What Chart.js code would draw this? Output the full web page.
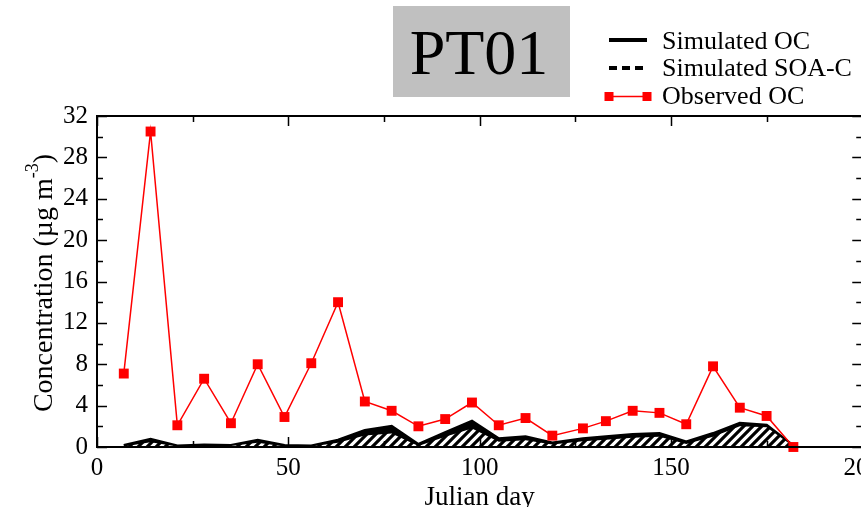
<!DOCTYPE html>
<html>
<head>
<meta charset="utf-8">
<script src="https://cdn.jsdelivr.net/npm/chart.js@4"></script>
<style>
html,body{margin:0;padding:0;background:#fff;overflow:hidden;width:861px;height:507px;}
canvas{display:block;}
</style>
</head>
<body>
<canvas id="c" width="887" height="520"></canvas>
<script>
// ---- data ----
const days = [7,14,21,28,35,42,49,56,63,70,77,84,91,98,105,112,119,127,133,140,147,154,161,168,175,182];
const observedOC = [7.1,30.5,2.1,6.6,2.3,8.0,2.9,8.1,14.0,4.4,3.5,2.0,2.7,4.3,2.1,2.8,1.1,1.8,2.5,3.5,3.3,2.2,7.8,3.8,3.0,0.0];
const simulatedOC = [0.15,0.75,0.1,0.2,0.15,0.65,0.15,0.1,0.65,1.6,2.0,0.25,1.4,2.5,0.8,1.0,0.4,0.8,1.0,1.2,1.3,0.5,1.3,2.3,2.1,0.1];
const simulatedSOA = [0.05,0.45,0.05,0.1,0.1,0.4,0.05,0.05,0.4,1.1,1.3,0.1,1.0,1.8,0.5,0.65,0.25,0.55,0.7,0.9,1.0,0.3,1.0,2.0,1.9,0.05];
const legendLabels = ['Simulated OC','Simulated SOA-C','Observed OC'];
const stationName = 'PT01';
const xTitle = 'Julian day';
const yTitleMain = 'Concentration (\u00b5g m';
const yTitleSup = '-3';
const yTitleEnd = ')';
const xTickLabels = [0,50,100,150,200];
const yTickLabels = [0,4,8,12,16,20,24,28,32];

const pts = (arr) => days.map((d,i) => ({x:d, y:arr[i]}));

// hatch pattern
const pc = document.createElement('canvas');
pc.width = 9; pc.height = 9;
const g = pc.getContext('2d');
g.fillStyle = '#fff'; g.fillRect(0,0,9,9);
g.strokeStyle = '#000'; g.lineWidth = 3.2;
g.beginPath();
g.moveTo(-4.5,4.5); g.lineTo(4.5,-4.5);
g.moveTo(0,9); g.lineTo(9,0);
g.moveTo(4.5,13.5); g.lineTo(13.5,4.5);
g.stroke();
const hatch = g.createPattern(pc,'repeat');

const SERIF = '"Liberation Serif", "Times New Roman", serif';

const decor = {
  id:'decor',
  afterDraw(chart){
    const ctx = chart.ctx;
    const a = chart.chartArea;
    const xs = chart.scales.x, ys = chart.scales.y;
    ctx.save();
    // frame
    ctx.strokeStyle = '#000'; ctx.lineWidth = 2;
    ctx.strokeRect(a.left, a.top, a.right - a.left, a.bottom - a.top);
    // ticks
    ctx.lineWidth = 1.5;
    ctx.beginPath();
    for (let v = 0; v <= 32; v += 2) {
      const y = Math.round(ys.getPixelForValue(v)) + 0.5;
      const L = (v % 4 === 0) ? 10 : 6;
      ctx.moveTo(a.left, y); ctx.lineTo(a.left + L, y);
      ctx.moveTo(a.right, y); ctx.lineTo(a.right - L, y);
    }
    for (let v = 0; v <= 200; v += 25) {
      const x = Math.round(xs.getPixelForValue(v)) + 0.5;
      const L = (v % 50 === 0) ? 10 : 6;
      ctx.moveTo(x, a.bottom); ctx.lineTo(x, a.bottom - L);
      ctx.moveTo(x, a.top); ctx.lineTo(x, a.top + L);
    }
    ctx.stroke();

    // x title
    ctx.fillStyle = '#000';
    ctx.font = '27px ' + SERIF;
    ctx.textAlign = 'center'; ctx.textBaseline = 'alphabetic';
    ctx.fillText(xTitle, (a.left + a.right) / 2, 505);

    // y title with superscript
    ctx.save();
    ctx.translate(52, 283);
    ctx.rotate(-Math.PI/2);
    ctx.textAlign = 'left';
    ctx.font = '28px ' + SERIF;
    const w1 = ctx.measureText(yTitleMain).width;
    const w3 = ctx.measureText(yTitleEnd).width;
    ctx.font = '18px ' + SERIF;
    const w2 = ctx.measureText(yTitleSup).width;
    let u = -(w1 + w2 + w3) / 2;
    ctx.font = '28px ' + SERIF;
    ctx.fillText(yTitleMain, u, 0); u += w1;
    ctx.font = '18px ' + SERIF;
    ctx.fillText(yTitleSup, u, -14); u += w2;
    ctx.font = '28px ' + SERIF;
    ctx.fillText(yTitleEnd, u, 0);
    ctx.restore();

    // title box
    ctx.fillStyle = '#c0c0c0';
    ctx.fillRect(393, 6, 177, 91);
    ctx.fillStyle = '#000';
    ctx.font = '64px ' + SERIF;
    ctx.textAlign = 'center';
    ctx.fillText(stationName, 479, 74);

    // legend
    ctx.textAlign = 'left';
    ctx.font = '26px ' + SERIF;
    const lx0 = 609, lx1 = 647, tx = 662;
    const rows = [40, 68, 96.5];
    const bases = [48.5, 76, 103.5];
    ctx.strokeStyle = '#000'; ctx.lineWidth = 4; ctx.setLineDash([]);
    ctx.beginPath(); ctx.moveTo(lx0, rows[0]); ctx.lineTo(lx1, rows[0]); ctx.stroke();
    ctx.setLineDash([8,5]);
    ctx.beginPath(); ctx.moveTo(lx0, rows[1]); ctx.lineTo(lx1, rows[1]); ctx.stroke();
    ctx.setLineDash([]);
    ctx.strokeStyle = '#ff0000'; ctx.lineWidth = 1.5;
    ctx.beginPath(); ctx.moveTo(lx0, rows[2]); ctx.lineTo(lx1, rows[2]); ctx.stroke();
    ctx.fillStyle = '#ff0000';
    ctx.fillRect(lx0 - 4.5, rows[2] - 4.5, 9, 9);
    ctx.fillRect(lx1 - 4.5, rows[2] - 4.5, 9, 9);
    ctx.fillStyle = '#000';
    legendLabels.forEach((t,i) => ctx.fillText(t, tx, bases[i]));
    ctx.restore();
  }
};

new Chart(document.getElementById('c'), {
  type:'line',
  data:{
    datasets:[
      {
        label: legendLabels[2],
        data: pts(observedOC),
        borderColor:'#ff0000', borderWidth:1.5,
        pointStyle:'rect', pointRadius:7, pointHoverRadius:7,
        pointBackgroundColor:'#ff0000', pointBorderWidth:0,
        fill:false, tension:0, clip:false
      },
      {
        label: legendLabels[1],
        data: pts(simulatedSOA),
        borderWidth:0, borderColor:'rgba(0,0,0,0)',
        backgroundColor: hatch,
        pointRadius:0, fill:'origin', tension:0
      },
      {
        label: legendLabels[0],
        data: pts(simulatedOC),
        borderColor:'#000', borderWidth:3,
        backgroundColor:'#000',
        pointRadius:0, fill:'origin', tension:0
      }
    ]
  },
  options:{
    responsive:false,
    animation:false,
    devicePixelRatio:1,
    layout:{ autoPadding:false, padding:{left:0, top:116, right:8, bottom:0} },
    plugins:{ legend:{display:false}, title:{display:false}, tooltip:{enabled:false} },
    scales:{
      x:{
        type:'linear', min:0, max:200,
        afterFit:(s)=>{ s.height = 73; },
        afterBuildTicks:(s)=>{ s.ticks = xTickLabels.map(v=>({value:v})); },
        grid:{display:false, drawTicks:false},
        border:{display:false},
        ticks:{ color:'#000', padding:6, maxRotation:0, autoSkip:false,
                font:{family:SERIF, size:25} }
      },
      y:{
        type:'linear', min:0, max:32,
        afterFit:(s)=>{ s.width = 97; },
        afterBuildTicks:(s)=>{ s.ticks = yTickLabels.map(v=>({value:v})); },
        grid:{display:false, drawTicks:false},
        border:{display:false},
        ticks:{ color:'#000', padding:9, autoSkip:false,
                font:{family:SERIF, size:25} }
      }
    }
  },
  plugins:[decor]
});
</script>
</body>
</html>
